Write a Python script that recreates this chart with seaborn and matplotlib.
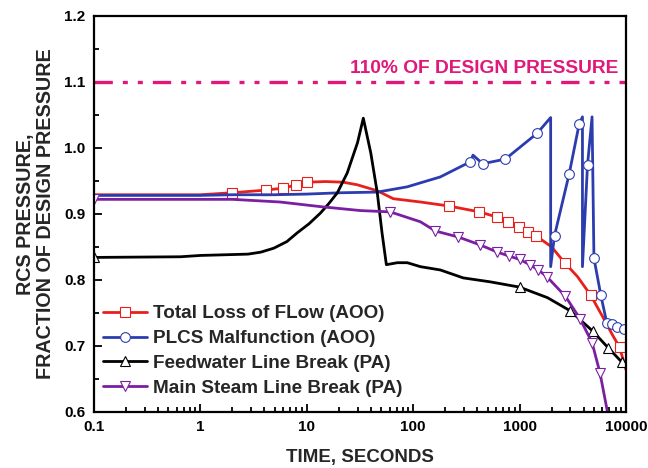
import matplotlib
matplotlib.use("Agg")
import matplotlib.pyplot as plt
import seaborn as sns
import numpy as np
from matplotlib.lines import Line2D
from matplotlib.ticker import FixedLocator, NullFormatter, LogLocator

sns.set_theme(style="ticks")
plt.rcParams['font.family'] = ['Liberation Sans', 'DejaVu Sans']
plt.rcParams['font.weight'] = 'bold'

# ---------------- data ----------------
labels = ["Total Loss of FLow (AOO)", "PLCS Malfunction (AOO)",
          "Feedwater Line Break (PA)", "Main Steam Line Break (PA)"]

red_t = [0.1, 1.0, 2.0, 4.1, 6.0, 8.0, 10, 15, 22, 30, 46, 65, 117, 215, 420, 620, 780,
         980, 1190, 1420, 2000, 2650, 3500, 4650, 6000, 7500, 8700, 10000]
red_p = [0.929, 0.929, 0.932, 0.936, 0.939, 0.944, 0.948, 0.949, 0.948, 0.944, 0.935, 0.923,
         0.918, 0.912, 0.903, 0.895, 0.888, 0.880, 0.873, 0.867, 0.850, 0.826, 0.805, 0.777,
         0.745, 0.716, 0.698, 0.664]
red_mk = [2, 3, 4, 5, 6, 13, 14, 15, 16, 17, 18, 19, 21, 23, 26]

blue_t = [0.1, 1.0, 2.0, 5, 10, 21, 46, 88, 117, 180, 345, 365, 450, 735, 1460, 1960,
          1960, 2130, 2930, 3630, 3900, 3900, 4350, 4800, 5000, 5800, 6600, 7400, 8200,
          9500, 10000]
blue_p = [0.928, 0.928, 0.929, 0.929, 0.930, 0.932, 0.933, 0.941, 0.947, 0.956, 0.979,
          0.989, 0.976, 0.983, 1.022, 1.046, 0.820, 0.867, 0.961, 1.036, 1.047, 0.820,
          0.974, 1.047, 0.833, 0.777, 0.735, 0.733, 0.729, 0.726, 0.725]
blue_mk = [10, 12, 13, 14, 17, 18, 19, 22, 24, 25, 26, 27, 28, 29]

black_t = [0.1, 0.65, 1.0, 2.8, 3.7, 4.9, 6.5, 8.1, 10.5, 13.4, 16, 19.4, 24, 30, 34,
           40, 46, 51, 56, 71, 88, 117, 180, 295, 530, 1000, 1830, 3000, 4900, 6800,
           9200, 10000]
black_p = [0.834, 0.835, 0.837, 0.839, 0.842, 0.848, 0.858, 0.871, 0.885, 0.901, 0.915,
           0.932, 0.962, 1.008, 1.045, 0.992, 0.932, 0.871, 0.823, 0.826, 0.826, 0.820,
           0.815, 0.803, 0.797, 0.789, 0.773, 0.753, 0.722, 0.697, 0.675, 0.668]
black_mk = [0, 25, 27, 28, 29, 30]

purple_t = [0.1, 1.0, 2.0, 5.6, 13.4, 32, 61, 117, 162, 265, 425, 620, 800, 1000, 1250,
            1500, 1800, 2700, 3700, 4800, 5700, 6700]
purple_p = [0.922, 0.922, 0.922, 0.918, 0.911, 0.905, 0.903, 0.888, 0.874, 0.865, 0.853,
            0.842, 0.836, 0.831, 0.823, 0.815, 0.805, 0.775, 0.741, 0.705, 0.659, 0.600]
purple_mk = [0, 6, 8, 9, 10, 11, 12, 13, 14, 15, 16, 17, 18, 19, 20]

design_limit = 1.1
limit_text = "110% OF DESIGN PRESSURE"

colors = ["#E8201C", "#2B3DAE", "#000000", "#7B1FA2"]
markers = ["s", "o", "^", "v"]
series = [(red_t, red_p, red_mk), (blue_t, blue_p, blue_mk),
          (black_t, black_p, black_mk), (purple_t, purple_p, purple_mk)]

# ---------------- figure ----------------
fig = plt.figure(figsize=(6.48, 4.68), dpi=100)
ax = fig.add_axes([0.145, 0.12, 0.821, 0.846])

for (t, p, mk), c, m, lab in zip(series, colors, markers, labels):
    sns.lineplot(x=t, y=p, ax=ax, sort=False, estimator=None, color=c, lw=2.0,
                 marker=m, markevery=mk, markersize=7, markerfacecolor="white",
                 markeredgecolor=c, markeredgewidth=0.8, label=lab, legend=False)

ax.axhline(design_limit, color="#E0187A", lw=2.4, dashes=(5.5, 3, 1.5, 3, 1.5, 3))
ax.text(8500, design_limit + 0.008, limit_text, color="#E0187A", fontsize=13.8,
        fontweight="bold", ha="right", va="bottom")

ax.set_xscale("log")
ax.set_xlim(0.1, 10000)
ax.set_ylim(0.6, 1.2)
ax.set_xticks([0.1, 1, 10, 100, 1000, 10000])
ax.set_xticklabels(["0.1", "1", "10", "100", "1000", "10000"])
ax.xaxis.set_minor_locator(LogLocator(base=10, subs=np.arange(2, 10), numticks=20))
ax.xaxis.set_minor_formatter(NullFormatter())
ax.set_yticks([0.6, 0.7, 0.8, 0.9, 1.0, 1.1, 1.2])
ax.set_yticklabels(["0.6", "0.7", "0.8", "0.9", "1.0", "1.1", "1.2"])
ax.yaxis.set_minor_locator(FixedLocator([0.65, 0.75, 0.85, 0.95, 1.05, 1.15]))

ax.tick_params(which="both", direction="in", top=False, right=False, width=1.3,
               colors="black", labelsize=11)
ax.tick_params(which="major", length=6, pad=6)
ax.tick_params(which="minor", length=3.5)
for lab in ax.get_xticklabels() + ax.get_yticklabels():
    lab.set_fontweight("bold")
for s in ax.spines.values():
    s.set_color("black")
    s.set_linewidth(1.6)

ax.set_xlabel("TIME, SECONDS", fontsize=13.5, fontweight="bold", labelpad=11)
ax.set_ylabel("RCS PRESSURE,\nFRACTION OF DESIGN PRESSURE", fontsize=14.2,
              fontweight="bold", labelpad=6.5, linespacing=1.12)

handles = [Line2D([0], [0], color=c, lw=2, marker=m, markersize=7, markerfacecolor="white",
                  markeredgecolor=c, markeredgewidth=0.8) for c, m in zip(colors, markers)]
leg = ax.legend(handles, labels, loc="lower left", bbox_to_anchor=(-0.011, 0.0),
                frameon=False, handlelength=2.3, handletextpad=0.35, labelspacing=0.4,
                borderaxespad=0.4, prop={"weight": "bold", "size": 13.6})

fig.savefig("out.png", dpi=100)
